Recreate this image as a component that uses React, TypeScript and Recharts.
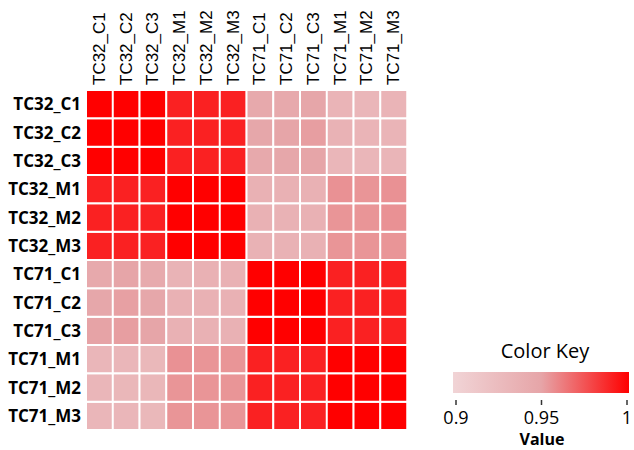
import { BarChart, Bar, Cell, XAxis, YAxis } from 'recharts';

const colNames = ['TC32_C1', 'TC32_C2', 'TC32_C3', 'TC32_M1', 'TC32_M2', 'TC32_M3', 'TC71_C1', 'TC71_C2', 'TC71_C3', 'TC71_M1', 'TC71_M2', 'TC71_M3'];
const rowNames = colNames;

// correlation values, one array per row (columns in colNames order)
const tc32C1 = [1, 1, 1, 0.99, 0.99, 0.99, 0.946, 0.946, 0.949, 0.934, 0.932, 0.934];
const tc32C2 = [1, 1, 1, 0.99, 0.99, 0.99, 0.948, 0.95, 0.952, 0.936, 0.934, 0.934];
const tc32C3 = [1, 1, 1, 0.99, 0.99, 0.99, 0.946, 0.948, 0.95, 0.932, 0.932, 0.933];
const tc32M1 = [0.99, 0.99, 0.99, 1, 1, 1, 0.937, 0.937, 0.937, 0.956, 0.955, 0.956];
const tc32M2 = [0.99, 0.99, 0.99, 1, 1, 1, 0.937, 0.936, 0.937, 0.955, 0.955, 0.956];
const tc32M3 = [0.99, 0.99, 0.99, 1, 1, 1, 0.936, 0.936, 0.937, 0.955, 0.955, 0.955];
const tc71C1 = [0.946, 0.95, 0.945, 0.935, 0.937, 0.937, 1, 1, 1, 0.99, 0.99, 0.99];
const tc71C2 = [0.948, 0.9515, 0.948, 0.937, 0.937, 0.937, 1, 1, 1, 0.99, 0.99, 0.99];
const tc71C3 = [0.9506, 0.952, 0.95, 0.937, 0.937, 0.937, 1, 1, 1, 0.99, 0.99, 0.99];
const tc71M1 = [0.932, 0.932, 0.93, 0.956, 0.955, 0.955, 0.99, 0.99, 0.99, 1, 1, 1];
const tc71M2 = [0.932, 0.931, 0.931, 0.955, 0.955, 0.955, 0.99, 0.99, 0.99, 1, 1, 1];
const tc71M3 = [0.932, 0.932, 0.93, 0.955, 0.955, 0.955, 0.99, 0.99, 0.99, 1, 1, 1];
const matrix = [tc32C1, tc32C2, tc32C3, tc32M1, tc32M2, tc32M3, tc71C1, tc71C2, tc71C3, tc71M1, tc71M2, tc71M3];

// colour key
const keyStops = [0.9, 0.95, 1];
const keyColors = [[241, 212, 214], [230, 165, 168], [255, 0, 0]];
const keyTicks = [0.9, 0.95, 1];
const keyTickLabels = ['0.9', '0.95', '1'];

const colorFor = (v: number) => {
  const x = Math.max(keyStops[0], Math.min(keyStops[2], v));
  const i = x <= keyStops[1] ? 0 : 1;
  const t = (x - keyStops[i]) / (keyStops[i + 1] - keyStops[i]);
  const a = keyColors[i];
  const b = keyColors[i + 1];
  return `rgb(${a.map((c, k) => Math.round(c + (b[k] - c) * t)).join(',')})`;
};

const data = colNames.map((c) => {
  const d: Record<string, any> = { col: c };
  rowNames.forEach((r) => (d[r] = 1));
  return d;
});

const ColTick = ({ x, y, payload }: any) => (
  <text
    x={x}
    y={y}
    transform={`rotate(-90, ${x}, ${y})`}
    textAnchor="start"
    dominantBaseline="central"
    fill="#000"
    style={{ fontFamily: '"Liberation Sans", Arial, sans-serif', fontSize: 17 }}
  >
    {payload.value}
  </text>
);

const ColorKey = () => {
  const barX = 453;
  const barW = 176;
  const x0 = 456;
  const x1 = 627;
  const toX = (v: number) => x0 + ((v - keyTicks[0]) / (keyTicks[2] - keyTicks[0])) * (x1 - x0);
  const font = '"Open Sans", sans-serif';
  return (
    <svg width={634} height={450} style={{ position: 'absolute', left: 0, top: 0 }}>
      <defs>
        <linearGradient id="keyGrad" x1="0" x2="1" y1="0" y2="0">
          {keyStops.map((s, i) => (
            <stop key={s} offset={(s - keyStops[0]) / (keyStops[2] - keyStops[0])} stopColor={`rgb(${keyColors[i].join(',')})`} />
          ))}
        </linearGradient>
      </defs>
      <text x={545} y={358} textAnchor="middle" fill="#000" style={{ fontFamily: font, fontSize: 20 }}>
        Color Key
      </text>
      <rect x={barX} y={372} width={barW} height={21} fill="url(#keyGrad)" />
      {keyTicks.map((v, i) => (
        <g key={v}>
          <line x1={toX(v)} x2={toX(v)} y1={400} y2={405} stroke="#333" strokeWidth={1.5} />
          <text x={toX(v)} y={424} textAnchor="middle" fill="#000" style={{ fontFamily: font, fontSize: 18 }}>
            {keyTickLabels[i]}
          </text>
        </g>
      ))}
      <text x={542} y={445} textAnchor="middle" fill="#000" style={{ fontFamily: font, fontSize: 16, fontWeight: 700 }}>
        Value
      </text>
    </svg>
  );
};

export default function App() {
  return (
    <div style={{ position: 'absolute', left: 0, top: 0, width: 634, height: 450, background: '#fff' }}>
      <BarChart
        width={634}
        height={450}
        data={data}
        margin={{ top: 5, right: 227, bottom: 20, left: 6 }}
        barCategoryGap={0}
      >
        <XAxis
          dataKey="col"
          orientation="top"
          type="category"
          interval={0}
          height={85}
          axisLine={false}
          tickLine={false}
          tickSize={4}
          tickMargin={1}
          tick={<ColTick />}
        />
        <YAxis
          type="number"
          domain={[0, 12]}
          ticks={rowNames.map((_, i) => 11.5 - i)}
          tickFormatter={(v: number) => rowNames[Math.round(11.5 - v)]}
          interval={0}
          width={80}
          axisLine={false}
          tickLine={false}
          tickSize={3}
          tickMargin={2}
          tick={{ fill: '#000', fontFamily: '"Open Sans", sans-serif', fontSize: 17, fontWeight: 700 }}
        />
        {[...rowNames].reverse().map((r) => {
          const i = rowNames.indexOf(r);
          return (
            <Bar key={r} dataKey={r} stackId="cells" isAnimationActive={false} stroke="#fff" strokeWidth={2}>
              {colNames.map((c, j) => (
                <Cell key={c} fill={colorFor(matrix[i][j])} />
              ))}
            </Bar>
          );
        })}
      </BarChart>
      <ColorKey />
    </div>
  );
}
